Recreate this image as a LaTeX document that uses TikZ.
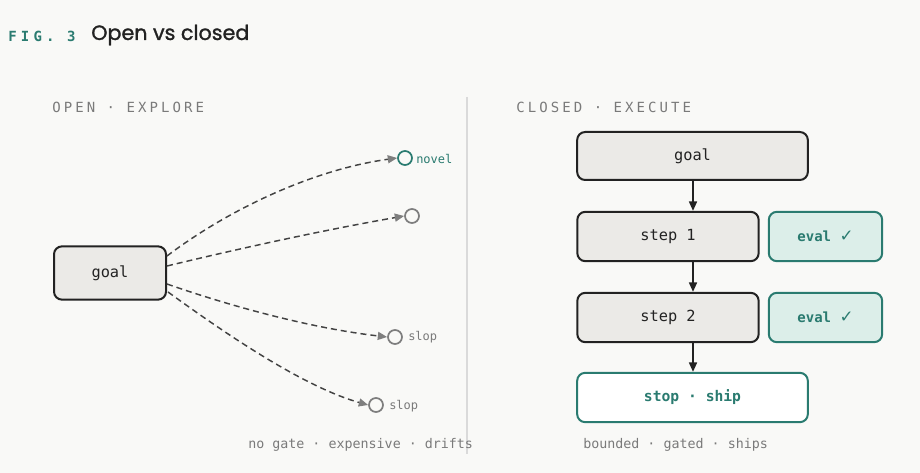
\documentclass[tikz,border=0pt]{standalone}
\usepackage{fontspec}
\usetikzlibrary{arrows.meta}
\setmainfont{Poppins}
\newfontfamily\monof{DejaVu Sans Mono}
\newfontfamily\monocaps[LetterSpace=22]{DejaVu Sans Mono}
\newfontfamily\monofig[LetterSpace=30]{DejaVu Sans Mono}
\newfontfamily\symf{DejaVu Sans}
\newfontfamily\titlef[FakeBold=1.3]{Poppins}
\definecolor{bgc}{HTML}{F9F9F7}
\definecolor{boxfill}{HTML}{EBEAE7}
\definecolor{ink}{HTML}{222222}
\definecolor{teal}{HTML}{2A7B70}
\definecolor{tealfill}{HTML}{DCEEE9}
\definecolor{greytxt}{HTML}{7A7A7A}
\definecolor{tipgrey}{HTML}{7E7E7E}
\definecolor{divc}{HTML}{DADADA}
\tikzset{
  graybox/.style={draw=ink, line width=1.5pt, fill=boxfill, rounded corners=6pt, inner sep=0pt, font=\monof\fontsize{11.5}{13}\selectfont, text=ink},
  evalbox/.style={draw=teal, line width=1.5pt, fill=tealfill, rounded corners=6pt, inner sep=0pt, font=\monof\bfseries\fontsize{10.5}{13}\selectfont, text=teal},
  shipbox/.style={draw=teal, line width=1.5pt, fill=white, rounded corners=6pt, inner sep=0pt, font=\monof\bfseries\fontsize{11}{13}\selectfont, text=teal},
  explore/.style={draw=ink!85, line width=1.1pt, dash pattern=on 4.5pt off 3pt, -{Triangle[length=7pt,width=6pt,color=tipgrey]}},
  flow/.style={draw=ink, line width=1.1pt, -{Triangle[length=7pt,width=6pt]}},
  endpt/.style={circle, draw=tipgrey, line width=1.3pt, minimum size=10.5pt, inner sep=0pt, fill=bgc},
  endlbl/.style={font=\monof\fontsize{9}{11}\selectfont, anchor=west, inner sep=0pt},
  section/.style={font=\monocaps\fontsize{10.5}{12}\selectfont, text=greytxt, anchor=west, inner sep=0pt},
  caption/.style={font=\monof\fontsize{10}{12}\selectfont, text=greytxt, anchor=west, inner sep=0pt},
}
\begin{document}
\begin{tikzpicture}[x=0.75pt, y=-0.75pt]
\fill[bgc] (0,0) rectangle (920,473);
\useasboundingbox (0,0) rectangle (920,473);

% header
\node[font=\monofig\bfseries\fontsize{10.5}{12}\selectfont, text=teal, anchor=west, inner sep=0pt] (fig) at (8,36) {FIG. 3};
\node[font=\titlef\fontsize{15.5}{18}\selectfont, text=ink, anchor=west, inner sep=0pt] (title) at (91,35) {Open vs closed};

% section labels
\node[section] (openlbl) at (52,107) {OPEN · EXPLORE};
\node[section] (closedlbl) at (516,107) {CLOSED · EXECUTE};

% divider
\draw[divc, line width=1.2pt] (467,97) -- (467,454);

% left side
\node[graybox, minimum width=84pt, minimum height=40pt] (lgoal) at (110,273) {\raisebox{-1pt}{goal}};
\node[endpt, draw=teal] (n1) at (405,158) {};
\node[endpt] (n2) at (412,216) {};
\node[endpt] (n3) at (395,337) {};
\node[endpt] (n4) at (376,405) {};
\node[endlbl, text=teal] (l1) at (416,159) {novel};
\node[endlbl, text=greytxt] (l3) at (408,337) {slop};
\node[endlbl, text=greytxt] (l4) at (389,406) {slop};

\coordinate (s1) at (167,256);
\coordinate (s2) at (167,266);
\coordinate (s3) at (167,284);
\coordinate (s4) at (168,292);
\draw[explore] (s1) .. controls (225,212) and (310,170) .. (n1.west);
\draw[explore] (s2) .. controls (250,246) and (330,229) .. (n2.west);
\draw[explore] (s3) .. controls (230,306) and (310,328) .. (n3.west);
\draw[explore] (s4) .. controls (215,326) and (300,386) .. (n4.west);

\node[caption] (capl) at (248,445) {no gate · expensive · drifts};

% right side
\node[graybox, minimum width=173pt, minimum height=36pt] (rgoal) at (692.5,156) {\raisebox{-1pt}{goal}};
\node[graybox, minimum width=136pt, minimum height=37pt] (st1) at (668,236.5) {\raisebox{-1pt}{step 1}};
\node[evalbox, minimum width=85pt, minimum height=37pt] (ev1) at (825.5,236.5) {\raisebox{-1pt}{eval {\symf\mdseries\fontsize{12.5}{13}\selectfont ✓}}};
\node[graybox, minimum width=136pt, minimum height=37pt] (st2) at (668,317.5) {\raisebox{-1pt}{step 2}};
\node[evalbox, minimum width=85pt, minimum height=37pt] (ev2) at (825.5,317.5) {\raisebox{-1pt}{eval {\symf\mdseries\fontsize{12.5}{13}\selectfont ✓}}};
\node[shipbox, minimum width=173pt, minimum height=37pt] (ship) at (692.5,397.5) {\raisebox{-1pt}{stop · ship}};

\draw[flow] (rgoal.south -| 693,0) -- (st1.north -| 693,0);
\draw[flow] (st1.south -| 693,0) -- (st2.north -| 693,0);
\draw[flow] (st2.south -| 693,0) -- (ship.north -| 693,0);

\node[caption] (capr) at (583,445) {bounded · gated · ships};
\end{tikzpicture}
\end{document}
